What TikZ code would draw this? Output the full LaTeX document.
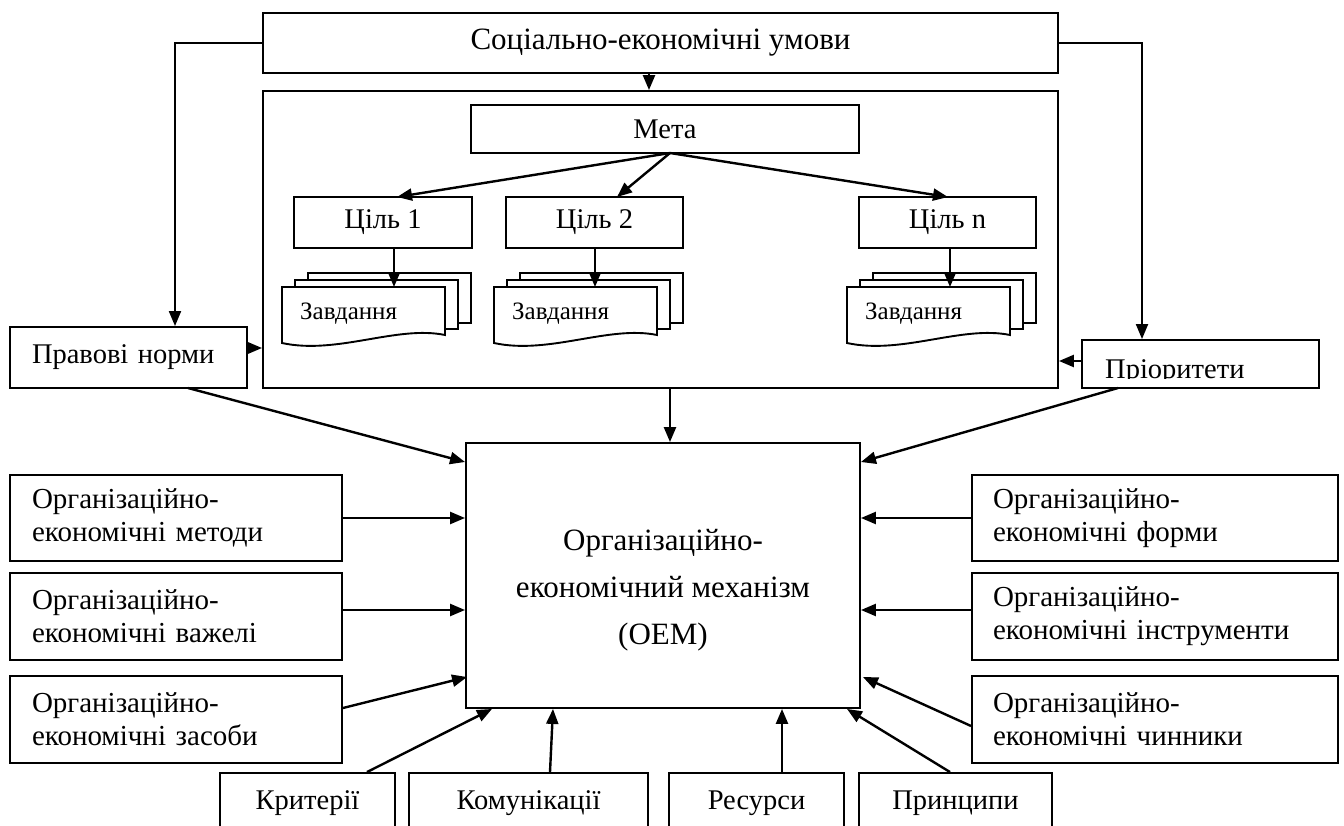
\documentclass[tikz,border=0pt]{standalone}
\usepackage{fontspec}
\setmainfont{Liberation Serif}
\usetikzlibrary{arrows.meta}
\newcommand\fTop{\fontsize{31}{37}\selectfont}
\newcommand\fSide{\fontsize{29}{33}\selectfont}
\newcommand\fMid{\fontsize{28.5}{33}\selectfont}
\newcommand\fDoc{\fontsize{25}{30}\selectfont}
\newcommand\fOem{\fontsize{31}{47}\selectfont}
\tikzset{
  box/.style={draw, line width=1.9pt, inner sep=0pt, fill=white},
  arr/.style={line width=2.4pt, -{Triangle[length=15pt,width=12pt]}},
  thinarr/.style={line width=2pt, -{Triangle[length=15pt,width=12pt]}},
  docbox/.style={draw, line width=1.9pt, fill=white},
  sidebox/.style={box, minimum height=86pt, align=left, font=\fSide},
  botbox/.style={box, minimum height=60pt, font=\fMid},
}
\newcommand\docstack[3]{%
  \filldraw[docbox] (#1+26,#2-14) rectangle (#1+189,#2+36);
  \filldraw[docbox] (#1+13,#2-7) rectangle (#1+176,#2+42);
  \filldraw[docbox] (#1,#2) -- (#1+163,#2) -- (#1+163,#2+48)
     .. controls (#1+115,#2+38) and (#1+55,#2+68) .. (#1,#2+56) -- cycle;
  \node[anchor=west, font=\fDoc, inner sep=0pt] (#3) at (#1+18,#2+27) {Завдання};
}
\begin{document}
\begin{tikzpicture}[x=1pt,y=-1pt]
\useasboundingbox (0,0) rectangle (1344,825);
\clip (0,0) rectangle (1344,825);

% top and frame
\node[box, minimum width=795pt, minimum height=60pt, font=\fTop] (top) at (660.5,43) {Соціально-економічні умови};
\node[box, fill=none, minimum width=795pt, minimum height=297pt] (frame) at (660.5,239.5) {};

% goal tree
\node[box, minimum width=388pt, minimum height=48pt, font=\fMid] (meta) at (665,129) {Мета};
\node[box, minimum width=178pt, minimum height=51pt, font=\fMid] (c1) at (383,222.5) {Ціль 1};
\node[box, minimum width=177pt, minimum height=51pt, font=\fMid] (c2) at (594.5,222.5) {Ціль 2};
\node[box, minimum width=177pt, minimum height=51pt, font=\fMid] (cn) at (947.5,222.5) {Ціль n};

\docstack{282}{287}{z1}
\docstack{494}{287}{z2}
\docstack{847}{287}{zn}

\coordinate (mo) at (670,153);
\coordinate (t1) at (397,197);
\coordinate (t2) at (617,197);
\coordinate (tn) at (948,197);
\draw[arr] (mo) -- (t1);
\draw[arr] (mo) -- (t2);
\draw[arr] (mo) -- (tn);

\coordinate (d1) at (394,287);
\coordinate (d2) at (595,287);
\coordinate (dn) at (950,287);
\draw[arr] (c1.south -| d1) -- (d1);
\draw[arr] (c2.south -| d2) -- (d2);
\draw[arr] (cn.south -| dn) -- (dn);

% side top boxes
\node[box, minimum width=237pt, minimum height=61pt, text width=193pt, align=left, font=\fMid] (pn) at (128.5,357.5) {Правові норми};
\node[box, minimum width=237pt, minimum height=48pt] (pr) at (1200.5,364) {};
\begin{scope}
  \clip (1082,340) rectangle (1319,378);
  \node[anchor=base west, font=\fMid, inner sep=0pt] (prt) at (1105,378) {Пріоритети};
\end{scope}

\coordinate (tl) at (175,43);
\coordinate (tr) at (1142,43);
\draw[thinarr] (top.west) -- (tl) -- (tl |- pn.north);
\draw[thinarr] (top.east) -- (tr) -- (tr |- pr.north);
\coordinate (tf) at (649,80);
\draw[arr] (top.south -| tf) -- (frame.north -| tf);

\coordinate (yp) at (0,348);
\coordinate (yq) at (0,361);
\draw[arr] (pn.east |- yp) -- (frame.west |- yp);
\draw[arr] (pr.west |- yq) -- (frame.east |- yq);

% central mechanism
\node[box, minimum width=394pt, minimum height=265pt] (oem) at (663,575.5) {};
\node[align=center, font=\fOem, inner sep=0pt] (oemt) at (663,590) {Організаційно-\\економічний механізм\\(ОЕМ)};

\coordinate (fo) at (670,400);
\draw[arr] (frame.south -| fo) -- (oem.north -| fo);
\coordinate (pnb) at (188,388);
\coordinate (prb) at (1118,388);
\coordinate (oy) at (0,462);
\draw[arr] (pnb) -- (oem.west |- oy);
\draw[arr] (prb) -- (oem.east |- oy);

% left boxes
\node[sidebox, minimum width=332pt, text width=288pt] (l1) at (176,518) {Організаційно-\\економічні методи};
\node[sidebox, minimum width=332pt, text width=288pt, minimum height=87pt] (l2) at (176,616.5) {Організаційно-\\економічні важелі};
\node[sidebox, minimum width=332pt, text width=288pt, minimum height=87pt] (l3) at (176,719.5) {Організаційно-\\економічні засоби};
% right boxes
\node[sidebox, minimum width=366pt, text width=324pt] (r1) at (1155,518) {Організаційно-\\економічні форми};
\node[sidebox, minimum width=366pt, text width=324pt, minimum height=87pt] (r2) at (1155,616.5) {Організаційно-\\економічні інструменти};
\node[sidebox, minimum width=366pt, text width=324pt, minimum height=87pt] (r3) at (1155,719.5) {Організаційно-\\економічні чинники};

\coordinate (y2) at (0,610);
\coordinate (l3o) at (0,708);
\coordinate (r3o) at (0,726);
\coordinate (in3) at (0,677);
\draw[arr] (l1.east) -- (oem.west |- l1.east);
\draw[arr] (l2.east |- y2) -- (oem.west |- y2);
\draw[arr] (l3.east |- l3o) -- ([xshift=2pt]oem.west |- in3);
\draw[arr] (r1.west) -- (oem.east |- r1.west);
\draw[arr] (r2.west |- y2) -- (oem.east |- y2);
\draw[arr] (r3.west |- r3o) -- ([xshift=2pt]oem.east |- in3);

% bottom boxes
\node[botbox, minimum width=175pt] (b1) at (307.5,803) {Критерії};
\node[botbox, minimum width=239pt] (b2) at (528.5,803) {Комунікації};
\node[botbox, minimum width=175pt] (b3) at (756.5,803) {Ресурси};
\node[botbox, minimum width=193pt] (b4) at (955.5,803) {Принципи};

\coordinate (x1s) at (367,0);
\coordinate (x1e) at (492,0);
\coordinate (x2s) at (550,0);
\coordinate (x2e) at (553,0);
\coordinate (x3) at (782,0);
\coordinate (x4s) at (950,0);
\coordinate (x4e) at (847,0);
\draw[arr] (b1.north -| x1s) -- (oem.south -| x1e);
\draw[arr] (b2.north -| x2s) -- (oem.south -| x2e);
\draw[arr] (b3.north -| x3) -- (oem.south -| x3);
\draw[arr] (b4.north -| x4s) -- (oem.south -| x4e);
\end{tikzpicture}
\end{document}
